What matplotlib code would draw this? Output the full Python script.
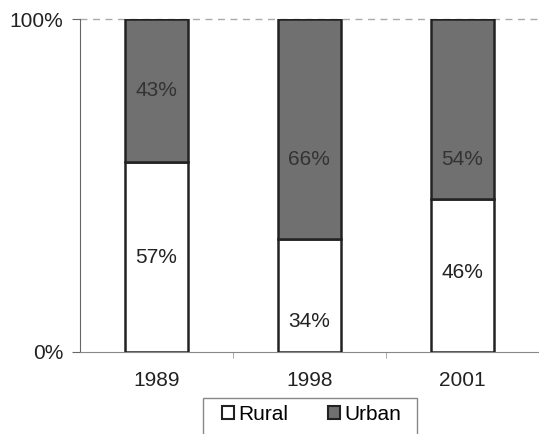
import matplotlib
matplotlib.use("Agg")
import matplotlib.pyplot as plt
from matplotlib.patches import Rectangle
import numpy as np

years = ["1989", "1998", "2001"]
rural = [57, 34, 46]
urban = [43, 66, 54]
yticks = [0, 100]
ytick_labels = ["0%", "100%"]

# label placement (fraction of segment height from its bottom), as in the reference
rural_label_pos = [0.5, 0.27, 0.52]
urban_label_pos = [0.5, 0.36, 0.22]

plt.rcParams['font.family'] = ['Liberation Sans', 'DejaVu Sans']
FS = 15

fig = plt.figure(figsize=(5.39, 4.34), dpi=100)
ax = fig.add_axes([0.148, 0.189, 0.852, 0.767])

x = np.arange(len(years))
w = 0.41
b1 = ax.bar(x, rural, w, color="white", edgecolor="#222222", linewidth=1.8, label="Rural", zorder=3)
b2 = ax.bar(x, urban, w, bottom=rural, color="#707070", edgecolor="#222222", linewidth=1.8, label="Urban", zorder=3)

for i in range(len(years)):
    ax.text(x[i], rural[i] * rural_label_pos[i], f"{rural[i]}%", ha="center", va="center",
            fontsize=FS, color="#222222", zorder=4)
    ax.text(x[i], rural[i] + urban[i] * urban_label_pos[i], f"{urban[i]}%", ha="center", va="center",
            fontsize=FS, color="#333333", zorder=4)

ax.set_xlim(-0.5, 2.5)
ax.set_ylim(0, 100)
ax.set_yticks(yticks)
ax.set_yticklabels(ytick_labels, fontsize=FS, color="#222222")
ax.set_xticks(x)
ax.set_xticklabels(years, fontsize=FS, color="#222222")
ax.tick_params(axis="x", length=0, pad=14)
ax.set_xticks([0.5, 1.5], minor=True)
ax.tick_params(axis="x", which="minor", length=4, color="#999999")
ax.tick_params(axis="y", length=6, color="#666666", pad=6)
ax.axhline(100, color="#aaaaaa", linestyle=(0, (5, 4)), linewidth=1, zorder=1, clip_on=False)

for s in ["top", "right"]:
    ax.spines[s].set_visible(False)
ax.spines["left"].set_color("#666666")
ax.spines["bottom"].set_color("#888888")

leg = fig.legend(handles=[b1, b2], loc="center", bbox_to_anchor=(0.578, 0.045), ncol=2,
                 fontsize=FS, frameon=False,
                 handlelength=0.6, handleheight=0.6, handletextpad=0.2, columnspacing=1.9,
                 borderpad=0.3, borderaxespad=0)
for h in leg.legend_handles:
    h.set_linewidth(1.5)

# legend box (extends past the bottom edge, as in the reference)
fig.patches.append(Rectangle((0.377, -0.02), 0.397, 0.104, transform=fig.transFigure,
                             fill=False, edgecolor="#888888", linewidth=1))

fig.savefig("out.png", dpi=100)
